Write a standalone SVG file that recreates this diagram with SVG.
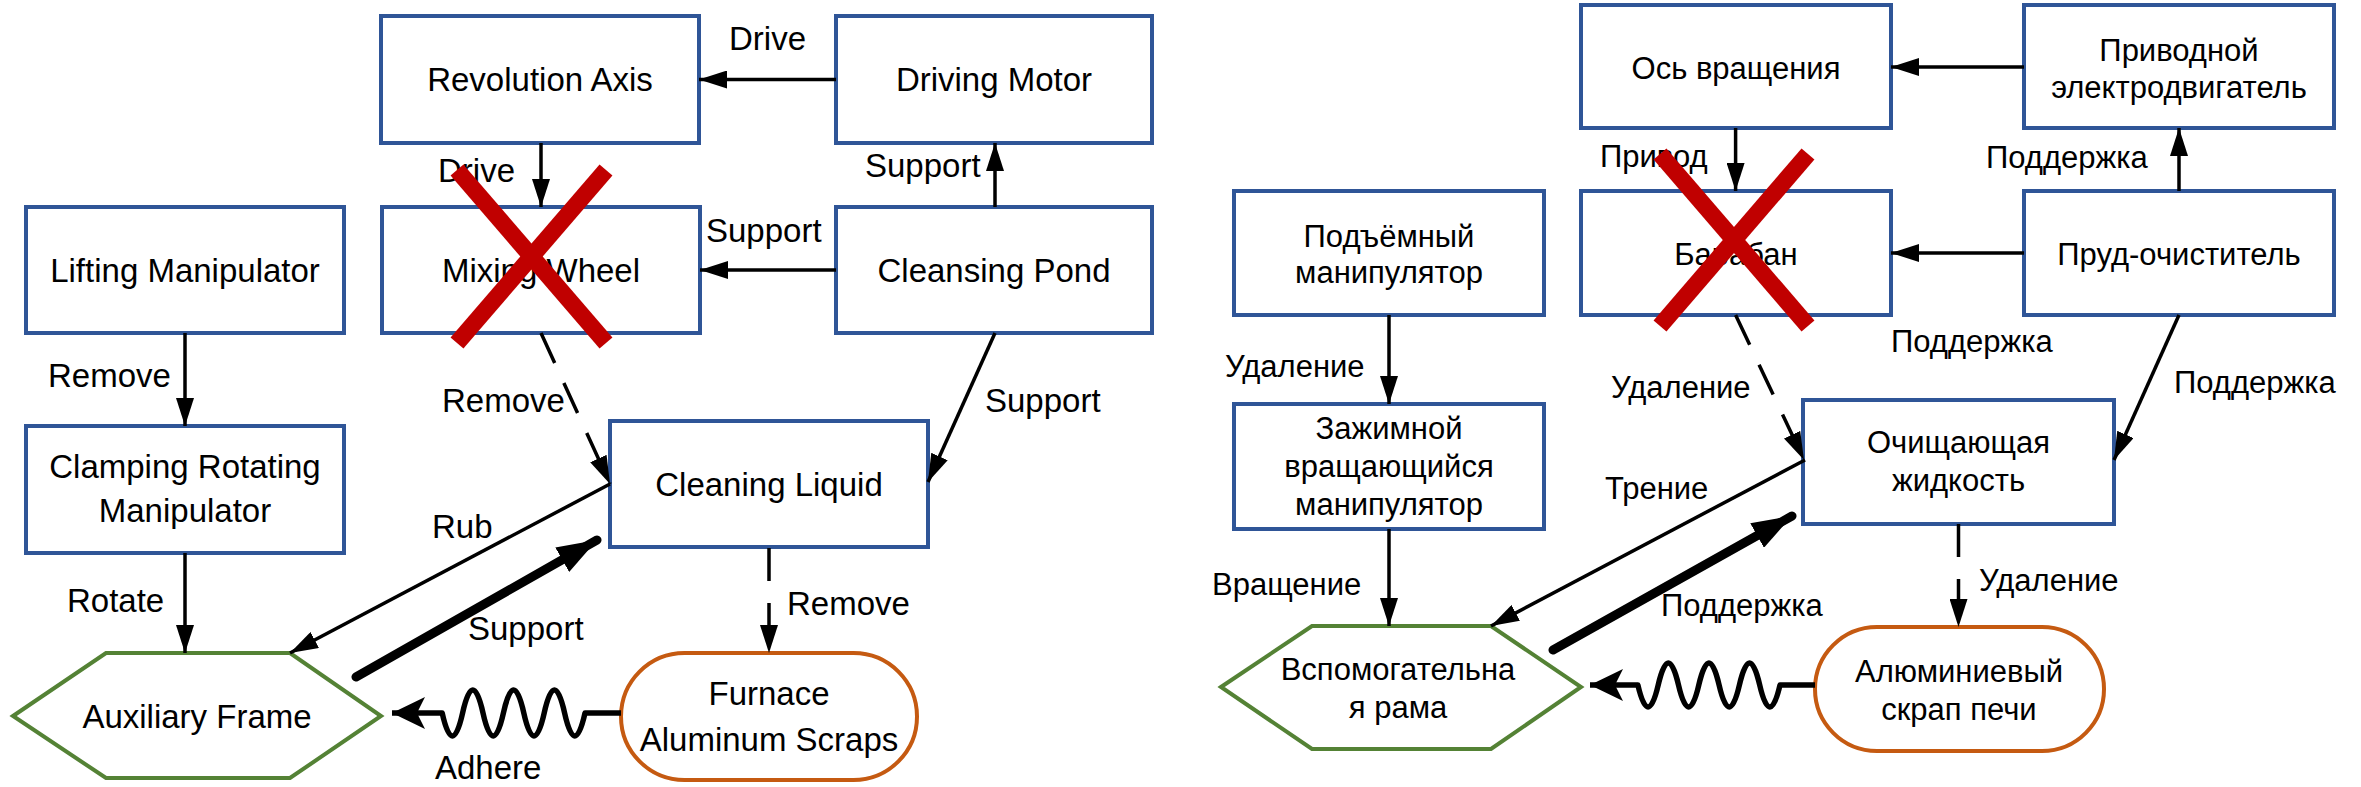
<svg xmlns="http://www.w3.org/2000/svg" width="2361" height="787" viewBox="0 0 2361 787">
<style>
.box{fill:#fff;stroke:#2F5597;stroke-width:4}
.hex{fill:#fff;stroke:#548235;stroke-width:4}
.stad{fill:#fff;stroke:#C55A11;stroke-width:4}
.t{font-family:"Liberation Sans",Arial,sans-serif;font-size:33px;fill:#000}
.r{font-family:"Liberation Sans",Arial,sans-serif;font-size:31px;fill:#000}
.m{text-anchor:middle}
.c{fill:none;stroke:#000;stroke-width:3.5}
.d{stroke-dasharray:33 22}
.thick{fill:none;stroke:#000;stroke-width:9;stroke-linecap:round}
.wave{fill:none;stroke:#000;stroke-width:5.5;stroke-linejoin:round}
.x{stroke:#C00000;stroke-width:17}
</style>
<defs>
<marker id="a" markerUnits="userSpaceOnUse" markerWidth="28" markerHeight="18" refX="28" refY="9" orient="auto"><path d="M0,0 L28,9 L0,18 z" fill="#000"/></marker>
<marker id="ab" markerUnits="userSpaceOnUse" markerWidth="40" markerHeight="28" refX="40" refY="14" orient="auto"><path d="M0,0 L40,14 L0,28 z" fill="#000"/></marker>
<marker id="aw" markerUnits="userSpaceOnUse" markerWidth="33" markerHeight="32" refX="33" refY="16" orient="auto"><path d="M0,0 L33,16 L0,32 L8,16 z" fill="#000"/></marker>
</defs>
<rect width="2361" height="787" fill="#fff"/>

<g id="left-nodes">
<g id="revolution-axis"><rect class="box" x="381" y="16" width="318" height="127"/><text class="t m" x="540" y="91">Revolution Axis</text></g>
<g id="driving-motor"><rect class="box" x="836" y="16" width="316" height="127"/><text class="t m" x="994" y="91">Driving Motor</text></g>
<g id="mixing-wheel"><rect class="box" x="382" y="207" width="318" height="126"/><text class="t m" x="541" y="282">Mixing Wheel</text></g>
<g id="cleansing-pond"><rect class="box" x="836" y="207" width="316" height="126"/><text class="t m" x="994" y="282">Cleansing Pond</text></g>
<g id="lifting-manipulator"><rect class="box" x="26" y="207" width="318" height="126"/><text class="t m" x="185" y="282">Lifting Manipulator</text></g>
<g id="clamping-rotating-manipulator"><rect class="box" x="26" y="426" width="318" height="127"/><text class="t m" x="185" y="478">Clamping Rotating</text><text class="t m" x="185" y="522">Manipulator</text></g>
<g id="cleaning-liquid"><rect class="box" x="610" y="421" width="318" height="126"/><text class="t m" x="769" y="496">Cleaning Liquid</text></g>
<g id="auxiliary-frame"><polygon class="hex" points="13,716 106,653 290,653 381,716 290,778 106,778"/><text class="t m" x="197" y="728">Auxiliary Frame</text></g>
<g id="furnace-aluminum-scraps"><rect class="stad" x="621" y="653" width="296" height="127" rx="63.5" ry="63.5"/><text class="t m" x="769" y="705">Furnace</text><text class="t m" x="769" y="751">Aluminum Scraps</text></g>
</g>

<g id="right-nodes">
<g id="os-vrashcheniya"><rect class="box" x="1581" y="5" width="310" height="123"/><text class="r m" x="1736" y="79">Ось вращения</text></g>
<g id="privodnoy"><rect class="box" x="2024" y="5" width="310" height="123"/><text class="r m" x="2179" y="61">Приводной</text><text class="r m" x="2179" y="98">электродвигатель</text></g>
<g id="podyemny"><rect class="box" x="1234" y="191" width="310" height="124"/><text class="r m" x="1389" y="247">Подъёмный</text><text class="r m" x="1389" y="283">манипулятор</text></g>
<g id="baraban"><rect class="box" x="1581" y="191" width="310" height="124"/><text class="r m" x="1736" y="265">Барабан</text></g>
<g id="prud"><rect class="box" x="2024" y="191" width="310" height="124"/><text class="r m" x="2179" y="265">Пруд-очиститель</text></g>
<g id="zazhimnoy"><rect class="box" x="1234" y="404" width="310" height="125"/><text class="r m" x="1389" y="439">Зажимной</text><text class="r m" x="1389" y="477">вращающийся</text><text class="r m" x="1389" y="515">манипулятор</text></g>
<g id="ochishchayushchaya"><rect class="box" x="1803" y="400" width="311" height="124"/><text class="r m" x="1958.5" y="453">Очищающая</text><text class="r m" x="1958.5" y="491">жидкость</text></g>
<g id="vspomogatelnaya"><polygon class="hex" points="1221,687 1312,626 1491,626 1581,687 1491,749 1312,749"/><text class="r m" x="1398" y="680">Вспомогательна</text><text class="r m" x="1398" y="718">я рама</text></g>
<g id="alyuminievy"><rect class="stad" x="1815" y="627" width="289" height="124" rx="62" ry="62"/><text class="r m" x="1959" y="682">Алюминиевый</text><text class="r m" x="1959" y="720">скрап печи</text></g>
</g>

<g id="connectors">
<line class="c" x1="836" y1="79.5" x2="699" y2="79.5" marker-end="url(#a)"/>
<line class="c" x1="541" y1="143" x2="541" y2="207" marker-end="url(#a)"/>
<line class="c" x1="995" y1="207" x2="995" y2="143" marker-end="url(#a)"/>
<line class="c" x1="836" y1="270" x2="700" y2="270" marker-end="url(#a)"/>
<line class="c" x1="185" y1="333" x2="185" y2="426" marker-end="url(#a)"/>
<line class="c d" x1="541" y1="333" x2="610" y2="484" marker-end="url(#a)"/>
<line class="c" x1="995" y1="333" x2="928" y2="482" marker-end="url(#a)"/>
<line class="c" x1="185" y1="553" x2="185" y2="653" marker-end="url(#a)"/>
<line class="c" x1="610" y1="484" x2="290" y2="653" marker-end="url(#a)"/>
<line class="thick" x1="356" y1="677" x2="597" y2="540" marker-end="url(#ab)"/>
<line class="c d" x1="769" y1="548" x2="769" y2="653" marker-end="url(#a)"/>
<path class="wave" d="M621,713 H585 q-10.2,46 -20.4,0 t-20.4,0 t-20.4,0 t-20.4,0 t-20.4,0 t-20.4,0 t-20.4,0 H392" marker-end="url(#aw)"/>

<line class="c" x1="2024" y1="67" x2="1891" y2="67" marker-end="url(#a)"/>
<line class="c" x1="1735.6" y1="128" x2="1735.6" y2="191" marker-end="url(#a)"/>
<line class="c" x1="2179" y1="191" x2="2179" y2="128" marker-end="url(#a)"/>
<line class="c" x1="2024" y1="253" x2="1891" y2="253" marker-end="url(#a)"/>
<line class="c" x1="1389" y1="315" x2="1389" y2="404" marker-end="url(#a)"/>
<line class="c d" x1="1735.6" y1="315" x2="1804" y2="460" marker-end="url(#a)"/>
<line class="c" x1="2179" y1="315" x2="2114" y2="460" marker-end="url(#a)"/>
<line class="c" x1="1389" y1="529" x2="1389" y2="626" marker-end="url(#a)"/>
<line class="c" x1="1805" y1="460" x2="1491" y2="626" marker-end="url(#a)"/>
<line class="thick" x1="1553" y1="650" x2="1792" y2="516" marker-end="url(#ab)"/>
<line class="c d" x1="1958.5" y1="524" x2="1958.5" y2="627" marker-end="url(#a)"/>
<path class="wave" d="M1815,685 H1780 q-10.15,44 -20.3,0 t-20.3,0 t-20.3,0 t-20.3,0 t-20.3,0 t-20.3,0 t-20.3,0 H1590" marker-end="url(#aw)"/>

<text class="t" x="729" y="50">Drive</text>
<text class="t" x="438" y="182">Drive</text>
<text class="t" x="865" y="177">Support</text>
<text class="t" x="706" y="242">Support</text>
<text class="t" x="48" y="387">Remove</text>
<text class="t" x="442" y="412">Remove</text>
<text class="t" x="985" y="412">Support</text>
<text class="t" x="432" y="538">Rub</text>
<text class="t" x="67" y="612">Rotate</text>
<text class="t" x="468" y="640">Support</text>
<text class="t" x="787" y="615">Remove</text>
<text class="t" x="435" y="779">Adhere</text>

<text class="r" x="1600" y="167">Привод</text>
<text class="r" x="1986" y="168">Поддержка</text>
<text class="r" x="1225" y="377">Удаление</text>
<text class="r" x="1891" y="352">Поддержка</text>
<text class="r" x="1611" y="398">Удаление</text>
<text class="r" x="2174" y="393">Поддержка</text>
<text class="r" x="1605" y="499">Трение</text>
<text class="r" x="1661" y="616">Поддержка</text>
<text class="r" x="1212" y="595">Вращение</text>
<text class="r" x="1979" y="591">Удаление</text>
</g>

<g id="cross-marks">
<line class="x" x1="457" y1="170" x2="606" y2="343"/>
<line class="x" x1="606" y1="170" x2="457" y2="343"/>
<line class="x" x1="1660" y1="154" x2="1808" y2="326"/>
<line class="x" x1="1808" y1="154" x2="1660" y2="326"/>
</g>
</svg>
